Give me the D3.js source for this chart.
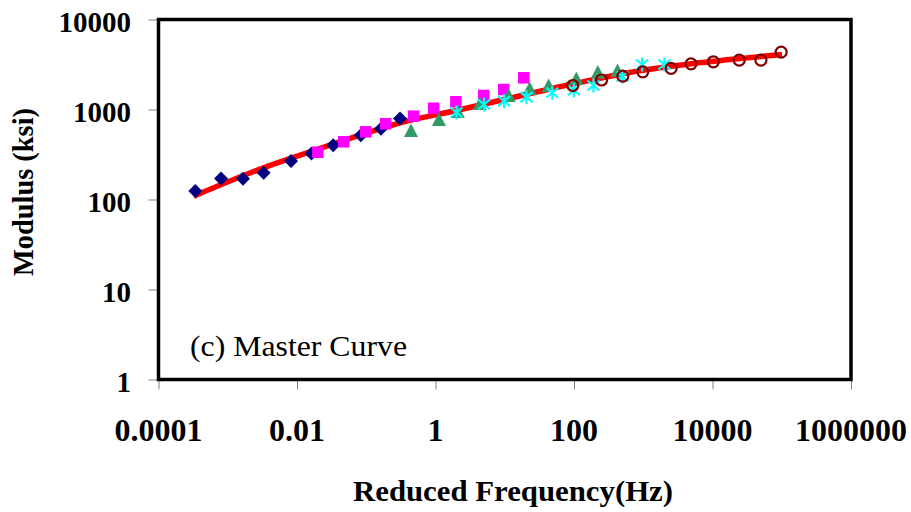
<!DOCTYPE html>
<html>
<head>
<meta charset="utf-8">
<script src="https://cdn.jsdelivr.net/npm/d3@7"></script>
<style>
  html, body { margin: 0; padding: 0; background: #fff; }
  svg { display: block; }
  text { font-family: "Liberation Serif", "Times New Roman", serif; }
</style>
</head>
<body>
<svg id="chart" width="911" height="512"></svg>
<script>
// ---- Data ----
const xTickValues = [1e-4, 1e-2, 1, 1e2, 1e4, 1e6];
const xTickLabels = ["0.0001", "0.01", "1", "100", "10000", "1000000"];
const yTickValues = [1, 10, 100, 1000, 10000];
const yTickLabels = ["1", "10", "100", "1000", "10000"];

const diamondFreq = [3.4e-4, 8.0e-4, 1.66e-3, 3.3e-3, 8.2e-3, 0.0162, 0.0333, 0.0834, 0.163, 0.307];
const diamondMod  = [124, 171, 170, 198, 267, 325, 401, 518, 610, 794];

const squareFreq = [0.02, 0.0474, 0.0984, 0.191, 0.483, 0.94, 1.97, 4.98, 9.68, 18.8];
const squareMod  = [335, 438, 565, 694, 843, 1033, 1218, 1431, 1668, 2250];

const triangleFreq = [0.443, 1.12, 2.1, 4.36, 11.4, 22.9, 43, 108, 221, 425];
const triangleMod  = [584, 774, 950, 1166, 1431, 1711, 1848, 2207, 2610, 2712];

const starFreq = [2.01, 5.03, 9.8, 20.6, 48.6, 99.8, 191, 501, 964, 2020];
const starMod  = [926, 1136, 1236, 1371, 1535, 1637, 1848, 2326, 3162, 3162];

const circleFreq = [96, 250, 507, 984, 2524, 4897, 10280, 24300, 50000, 98000];
const circleMod  = [1848, 2128, 2345, 2624, 2858, 3220, 3390, 3530, 3530, 4340];

const fitFreq = [3.23e-4, 3.29e-3, 0.0194, 0.073, 0.307, 2.01, 13, 120, 632, 6460, 1.01e5];
const fitMod  = [109, 225, 359, 505, 711, 975, 1359, 1995, 2577, 3304, 4085];

const titleText = "(c) Master Curve";
const xTitle = "Reduced Frequency(Hz)";
const yTitle = "Modulus (ksi)";

// ---- Layout ----
const svg = d3.select("#chart");
const plot = { left: 158.5, right: 851, top: 19.5, bottom: 379.5 };

const x = d3.scaleLog().domain([1e-4, 1e6]).range([plot.left, plot.right]);
const y = d3.scaleLog().domain([1, 10000]).range([plot.bottom, plot.top]);

// Axes ticks (outside, gray)
const xAxis = d3.axisBottom(x).tickValues(xTickValues).tickSize(10).tickFormat("");
const yAxis = d3.axisLeft(y).tickValues(yTickValues).tickSize(10).tickFormat("");

const gx = svg.append("g").attr("transform", `translate(0,${plot.bottom})`).call(xAxis);
const gy = svg.append("g").attr("transform", `translate(${plot.left},0)`).call(yAxis);
[gx, gy].forEach(g => {
  g.select(".domain").remove();
  g.selectAll(".tick line").attr("stroke", "#808080").attr("stroke-width", 1);
});

// Plot frame
svg.append("rect")
  .attr("x", plot.left).attr("y", plot.top)
  .attr("width", plot.right - plot.left).attr("height", plot.bottom - plot.top)
  .attr("fill", "none").attr("stroke", "#000").attr("stroke-width", 3.5);

// Tick labels
svg.append("g").selectAll("text")
  .data(xTickValues)
  .join("text")
  .attr("x", d => x(d))
  .attr("y", 441)
  .attr("text-anchor", "middle")
  .attr("font-size", 32)
  .attr("font-weight", "bold")
  .text((d, i) => xTickLabels[i]);

svg.append("g").selectAll("text")
  .data(yTickValues)
  .join("text")
  .attr("x", 131)
  .attr("y", d => y(d) + 12.5)
  .attr("text-anchor", "end")
  .attr("font-size", 29)
  .attr("font-weight", "bold")
  .text((d, i) => yTickLabels[i]);

// Axis titles
svg.append("text")
  .attr("x", 353).attr("y", 501)
  .attr("font-size", 30).attr("font-weight", "bold")
  .attr("textLength", 320).attr("lengthAdjust", "spacingAndGlyphs")
  .text(xTitle);

svg.append("text")
  .attr("transform", "translate(33,192) rotate(-90)")
  .attr("text-anchor", "middle")
  .attr("font-size", 29).attr("font-weight", "bold")
  .attr("textLength", 168).attr("lengthAdjust", "spacingAndGlyphs")
  .text(yTitle);

// Panel title
svg.append("text")
  .attr("x", 190).attr("y", 356)
  .attr("font-size", 29)
  .attr("textLength", 217).attr("lengthAdjust", "spacingAndGlyphs")
  .text(titleText);

// Fitted master curve
const fitData = fitFreq.map((f, i) => ({ f, m: fitMod[i] }));
svg.append("path")
  .datum(fitData)
  .attr("fill", "none")
  .attr("stroke", "#FF0000")
  .attr("stroke-width", 5.5)
  .attr("stroke-linecap", "butt")
  .attr("d", d3.line().x(d => x(d.f)).y(d => y(d.m)).curve(d3.curveMonotoneX));

function pts(fs, ms) { return fs.map((f, i) => ({ f, m: ms[i] })); }

// Diamonds
svg.append("g").selectAll("path")
  .data(pts(diamondFreq, diamondMod))
  .join("path")
  .attr("transform", d => `translate(${x(d.f)},${y(d.m)})`)
  .attr("d", "M0,-7L7,0L0,7L-7,0Z")
  .attr("fill", "#000080");

// Squares
svg.append("g").selectAll("rect")
  .data(pts(squareFreq, squareMod))
  .join("rect")
  .attr("x", d => x(d.f) - 5.75)
  .attr("y", d => y(d.m) - 5.75)
  .attr("width", 11.5).attr("height", 11.5)
  .attr("fill", "#FF00FF");

// Triangles
svg.append("g").selectAll("path")
  .data(pts(triangleFreq, triangleMod))
  .join("path")
  .attr("transform", d => `translate(${x(d.f)},${y(d.m)})`)
  .attr("d", "M0,-7L7,6.5L-7,6.5Z")
  .attr("fill", "#339966");

// Asterisks
svg.append("g").selectAll("path")
  .data(pts(starFreq, starMod))
  .join("path")
  .attr("transform", d => `translate(${x(d.f)},${y(d.m)})`)
  .attr("d", "M0,-7L0,7M-6,-5L6,5M-6,5L6,-5")
  .attr("fill", "none")
  .attr("stroke", "#00FFFF")
  .attr("stroke-width", 2.2);

// Open circles
svg.append("g").selectAll("circle")
  .data(pts(circleFreq, circleMod))
  .join("circle")
  .attr("cx", d => x(d.f))
  .attr("cy", d => y(d.m))
  .attr("r", 5.5)
  .attr("fill", "none")
  .attr("stroke", "#800000")
  .attr("stroke-width", 2.2);
</script>
</body>
</html>
